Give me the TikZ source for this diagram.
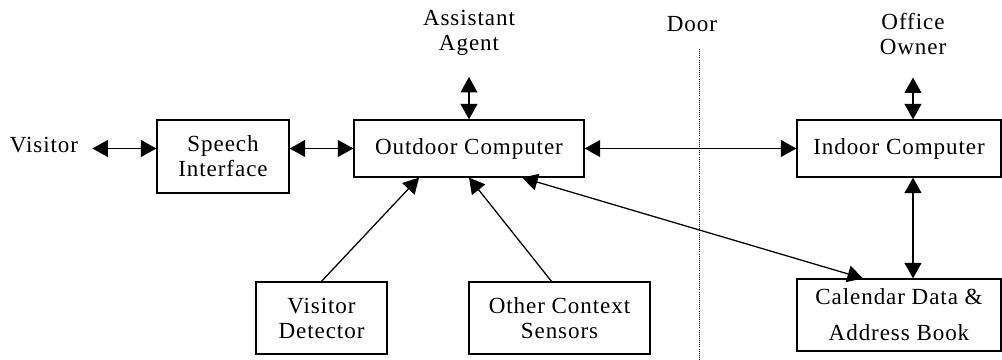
\documentclass[tikz,border=0pt]{standalone}
\usepackage{fontspec}
\setmainfont{Liberation Serif}[LetterSpace=4]
\usetikzlibrary{arrows.meta}
\tikzset{
  >={Triangle[length=11pt,width=12pt]},
  box/.style={draw, line width=0.9pt, inner sep=0pt, align=center},
  freetext/.style={inner sep=0pt, align=center},
  link/.style={line width=0.9pt},
}
\begin{document}
\begin{tikzpicture}[x=0.025cm, y=-0.025cm, font=\fontsize{16.4}{17.8}\selectfont]
\useasboundingbox (0,0) rectangle (1002,360);
% boxes
\node[box, minimum width=3.3cm, minimum height=1.825cm] (speech) at (223,156.5) {Speech\\Interface};
\node[box, minimum width=5.75cm, minimum height=1.425cm] (outdoor) at (469,148.5) {Outdoor Computer};
\node[box, minimum width=5.1cm, minimum height=1.425cm] (indoor) at (899,148.5) {Indoor Computer};
\node[box, minimum width=3.275cm, minimum height=1.8cm] (detector) at (321.5,318) {Visitor\\Detector};
\node[box, minimum width=4.525cm, minimum height=1.8cm] (sensors) at (559.5,318) {Other Context\\Sensors};
\node[box, minimum width=5.1cm, minimum height=1.8cm] (calendar) at (899,315) {Calendar Data \&\\[7.8pt]Address Book};
% free texts
\node[freetext] (visitor) at (44,145.5) {Visitor};
\node[freetext] (assistant) at (469,33) {Assistant\\Agent};
\node[freetext] (door) at (692,24.5) {Door};
\node[freetext] (office) at (913,34) {Office\\Owner};
% door line
\coordinate (doortop) at (699,49);
\coordinate (doorend) at (699,360);
\draw[densely dotted, line width=0.5pt] (doortop) -- (doorend);
% connectors
\draw[link,<->, shorten <=10pt] (visitor.east |- outdoor.west) -- (speech.west |- outdoor.west);
\draw[link,<->] (speech.east |- outdoor.west) -- (outdoor.west);
\draw[link,<->] (outdoor.east) -- (indoor.west);
\draw[link,<->, shorten <=15pt] (assistant.south) -- (outdoor.north);
\draw[link,<->, shorten <=16pt] (office.south) -- (office.south |- indoor.north);
\draw[link,<->] (indoor.south -| office.south) -- (calendar.north -| office.south);
\draw[link,->] (detector.north) -- ([xshift=-1.25cm]outdoor.south);
\draw[link,->] ([xshift=-0.2cm]sensors.north) -- (outdoor.south);
\draw[link,<->] ([xshift=1.33cm]outdoor.south) -- ([xshift=-0.9cm]calendar.north);
\end{tikzpicture}
\end{document}
